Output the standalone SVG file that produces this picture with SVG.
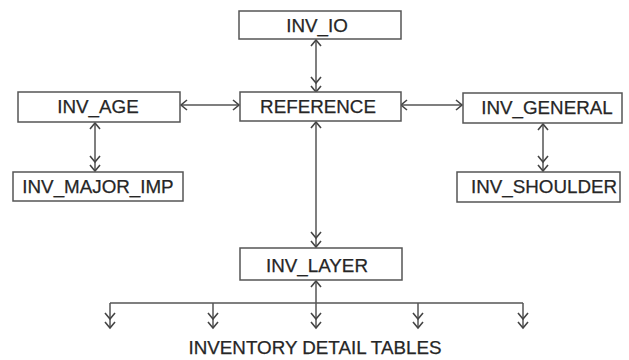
<svg xmlns="http://www.w3.org/2000/svg" width="629" height="360" viewBox="0 0 629 360">
  <style>
    .box { fill: #ffffff; stroke: #555555; stroke-width: 1.5; }
    .lbl { font-family: "Liberation Sans", Arial, sans-serif; font-size: 18.8px; fill: #262626; stroke: #262626; stroke-width: 0.25; text-anchor: middle; }
    .link { fill: none; stroke: #555555; stroke-width: 1.5; }
    .head { fill: none; stroke: #444444; stroke-width: 1.6; }
    .oneone { marker-start: url(#one); marker-end: url(#one); }
    .onemany { marker-start: url(#one); marker-end: url(#many); }
    .many { marker-end: url(#many); }
  </style>
  <defs>
    <!-- single open chevron: "one" end of a relationship -->
    <marker id="one" viewBox="-9 -7 11 14" refX="0" refY="0" markerWidth="11" markerHeight="14"
            orient="auto-start-reverse" markerUnits="userSpaceOnUse" overflow="visible">
      <path class="head" d="M-6,-5 L0,0 L-6,5"/>
    </marker>
    <!-- double open chevron: "many" end of a relationship -->
    <marker id="many" viewBox="-17 -7 19 14" refX="0" refY="0" markerWidth="19" markerHeight="14"
            orient="auto-start-reverse" markerUnits="userSpaceOnUse" overflow="visible">
      <path class="head" d="M-6,-5 L0,0 L-6,5 M-15,-5 L-9,0 L-15,5"/>
    </marker>
  </defs>

  <g id="connectors">
    <path class="link onemany" d="M316,40 L316,92"/>
    <path class="link oneone" d="M181,105 L239,105"/>
    <path class="link oneone" d="M401,105 L462,105"/>
    <path class="link onemany" d="M95,123 L95,171"/>
    <path class="link onemany" d="M543,124 L543,171"/>
    <path class="link onemany" d="M316,122 L316,247"/>
    <path class="link onemany" d="M316,281 L316,328"/>
    <path class="link" d="M110,303 L523,303"/>
    <path class="link many" d="M110,303 L110,328"/>
    <path class="link many" d="M213,303 L213,328"/>
    <path class="link many" d="M418,303 L418,328"/>
    <path class="link many" d="M523,303 L523,328"/>
  </g>

  <g id="inv_io">
    <rect class="box" x="239" y="11" width="162" height="28"/>
    <text class="lbl" x="317" y="32">INV_IO</text>
  </g>
  <g id="reference">
    <rect class="box" x="240" y="92" width="161" height="29"/>
    <text class="lbl" x="318" y="113">REFERENCE</text>
  </g>
  <g id="inv_age">
    <rect class="box" x="18" y="92" width="162" height="30"/>
    <text class="lbl" x="98" y="113">INV_AGE</text>
  </g>
  <g id="inv_major_imp">
    <rect class="box" x="13" y="172" width="170" height="29"/>
    <text class="lbl" x="98" y="193">INV_MAJOR_IMP</text>
  </g>
  <g id="inv_general">
    <rect class="box" x="463" y="93" width="159" height="30"/>
    <text class="lbl" x="547" y="114">INV_GENERAL</text>
  </g>
  <g id="inv_shoulder">
    <rect class="box" x="457" y="172" width="163" height="30"/>
    <text class="lbl" x="544" y="193">INV_SHOULDER</text>
  </g>
  <g id="inv_layer">
    <rect class="box" x="240" y="248" width="162" height="32"/>
    <text class="lbl" x="317" y="272">INV_LAYER</text>
  </g>
  <g id="detail_tables">
    <text class="lbl" x="315" y="354">INVENTORY DETAIL TABLES</text>
  </g>
</svg>
